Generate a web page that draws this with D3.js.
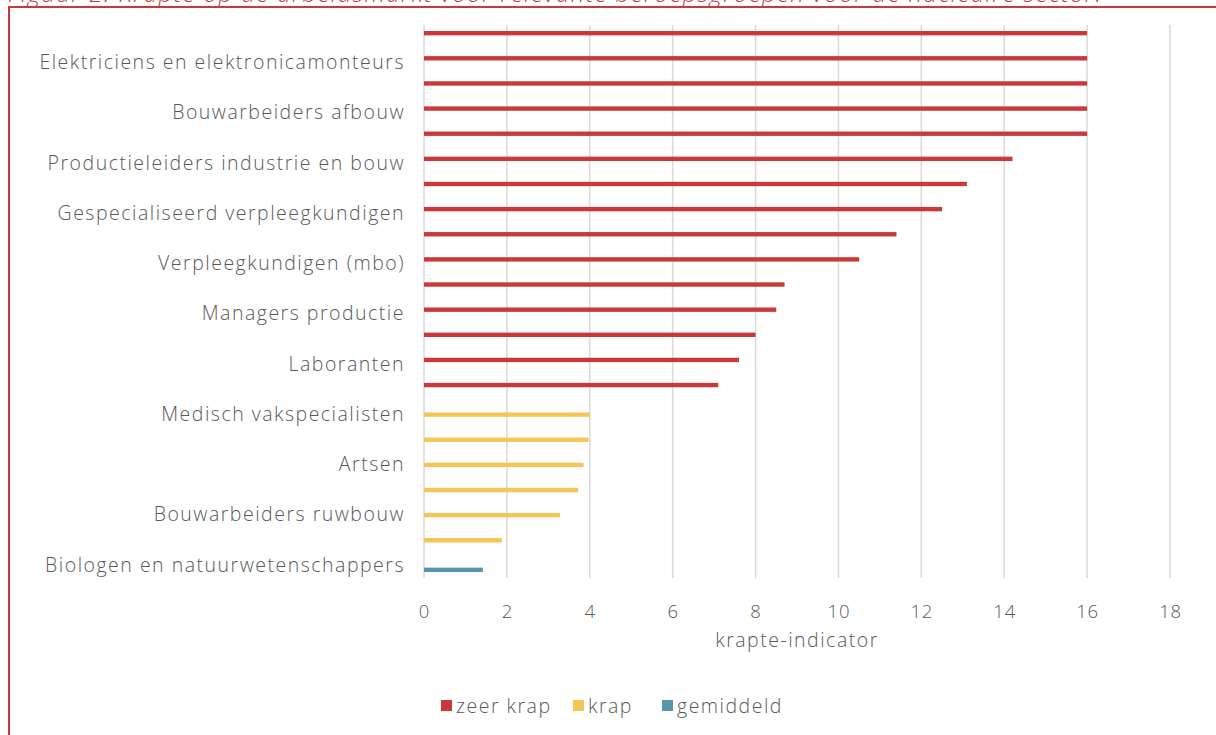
<!DOCTYPE html>
<html>
<head>
<meta charset="utf-8">
<script src="https://cdn.jsdelivr.net/npm/d3@7"></script>
<style>
  html, body { margin: 0; padding: 0; background: #ffffff; }
  svg { display: block; }
  text { font-family: "Open Sans", "Lato", sans-serif; font-weight: 300; }
</style>
</head>
<body>
<svg id="chart" width="1216" height="735"></svg>
<script>
// Occupational groups (the axis names every other group)
const categories = [
  "", "Elektriciens en elektronicamonteurs",
  "", "Bouwarbeiders afbouw",
  "", "Productieleiders industrie en bouw",
  "", "Gespecialiseerd verpleegkundigen",
  "", "Verpleegkundigen (mbo)",
  "", "Managers productie",
  "", "Laboranten",
  "", "Medisch vakspecialisten",
  "", "Artsen",
  "", "Bouwarbeiders ruwbouw",
  "", "Biologen en natuurwetenschappers"
];

// Krapte-indicator per group, one array per tension class
const zeerKrap = [16, 16, 16, 16, 16, 14.2, 13.1, 12.5, 11.4, 10.5, 8.7, 8.5, 8.0, 7.6, 7.1,
                  null, null, null, null, null, null, null];
const krap = [null, null, null, null, null, null, null, null, null, null, null, null, null, null, null,
              4.0, 3.97, 3.85, 3.72, 3.28, 1.88, null];
const gemiddeld = [null, null, null, null, null, null, null, null, null, null, null, null, null, null, null,
                   null, null, null, null, null, null, 1.42];

const seriesNames = ["zeer krap", "krap", "gemiddeld"];
const seriesColors = ["#C9393C", "#F6C557", "#5A93AD"];
const xTicks = [0, 2, 4, 6, 8, 10, 12, 14, 16, 18];
const xTitle = "krapte-indicator";
const figTitle = "Figuur 2: Krapte op de arbeidsmarkt voor relevante beroepsgroepen voor de nucleaire sector.";

const svg = d3.select("#chart");
const red = "#C9393C";
const textGray = "#595959";
const fs = 19.5;
const ls = 1.5;

// Caption, clipped by the top of the page
svg.append("text")
  .attr("x", 8).attr("y", 2)
  .attr("fill", red)
  .attr("font-size", 24)
  .attr("font-style", "italic")
  .attr("font-weight", 400)
  .attr("letter-spacing", 1.4)
  .text(figTitle);

// Red frame around the figure
svg.append("path")
  .attr("d", "M9,740 V7 H1220")
  .attr("fill", "none")
  .attr("stroke", red)
  .attr("stroke-width", 2);

const x = d3.scaleLinear().domain([0, 18]).range([424, 1170]);
const y = d3.scaleBand().domain(d3.range(categories.length))
  .range([25, 578]).paddingInner(0.475).paddingOuter(0.2375);
const ySeries = d3.scaleBand().domain(seriesNames).range([0, y.bandwidth()]);

// Vertical gridlines
svg.append("g").selectAll("line").data(xTicks).join("line")
  .attr("x1", d => x(d)).attr("x2", d => x(d))
  .attr("y1", 25).attr("y2", 578)
  .attr("stroke", "#D9D9D9").attr("stroke-width", 1.5);

// Bars
const seriesData = [zeerKrap, krap, gemiddeld];
seriesData.forEach((vals, s) => {
  svg.append("g").selectAll("rect")
    .data(vals.map((v, i) => ({ v, i })).filter(d => d.v != null))
    .join("rect")
    .attr("x", x(0))
    .attr("y", d => y(d.i) + ySeries(seriesNames[s]))
    .attr("width", d => x(d.v) - x(0))
    .attr("height", ySeries.bandwidth())
    .attr("fill", seriesColors[s]);
});

// Category axis
const yAxis = d3.axisLeft(y).tickSize(0).tickPadding(19).tickFormat(i => categories[i]);
const gy = svg.append("g").attr("transform", `translate(${x(0)},0)`).call(yAxis);
gy.select(".domain").remove();
gy.selectAll("text").attr("fill", textGray).attr("font-size", fs)
  .attr("font-family", "'Open Sans', sans-serif").attr("letter-spacing", ls);

// Value axis
const xAxis = d3.axisBottom(x).tickValues(xTicks).tickSize(0).tickPadding(18);
const gx = svg.append("g").attr("transform", "translate(0,587)").call(xAxis);
gx.select(".domain").remove();
gx.selectAll("text").attr("fill", textGray).attr("font-size", 18.5)
  .attr("font-family", "'Open Sans', sans-serif").attr("letter-spacing", 0.8);

svg.append("text")
  .attr("x", (x(0) + x(18)) / 2).attr("y", 647)
  .attr("text-anchor", "middle")
  .attr("fill", textGray).attr("font-size", fs).attr("letter-spacing", ls)
  .text(xTitle);

// Legend
const legendX = [441, 573, 662];
const lg = svg.append("g");
seriesNames.forEach((name, s) => {
  lg.append("rect").attr("x", legendX[s]).attr("y", 700).attr("width", 11).attr("height", 11)
    .attr("fill", seriesColors[s]);
  lg.append("text").attr("x", legendX[s] + 15).attr("y", 713)
    .attr("fill", textGray).attr("font-size", fs).attr("letter-spacing", ls)
    .text(name);
});
</script>
</body>
</html>
